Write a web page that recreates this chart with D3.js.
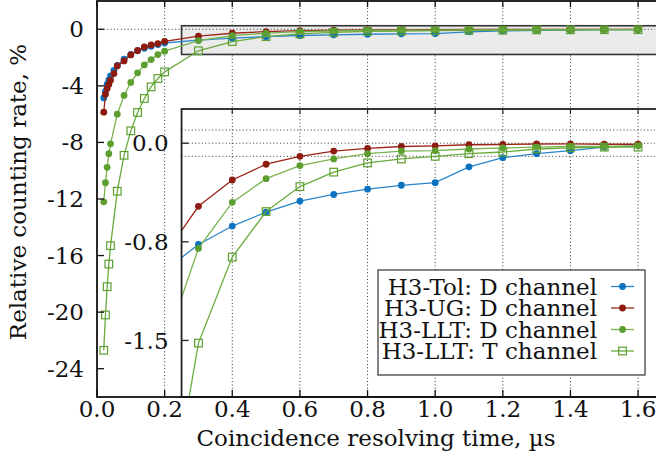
<!DOCTYPE html>
<html>
<head>
<meta charset="utf-8">
<script src="https://cdn.jsdelivr.net/npm/d3@7"></script>
<style>
  body { margin: 0; background: #fff; }
  svg text { font-family: "DejaVu Serif", "Liberation Serif", serif; fill: #111; }
</style>
</head>
<body>
<div id="chart"></div>
<script>
// x values (µs)
var xFineTU = [0.02, 0.025, 0.03, 0.035, 0.04, 0.05, 0.06, 0.08, 0.10, 0.12, 0.14, 0.16, 0.18, 0.20];
var xFineLLT = [0.02, 0.025, 0.03, 0.035, 0.04, 0.06, 0.08, 0.10, 0.12, 0.14, 0.16, 0.18, 0.20];
var xCoarse = [0.3, 0.4, 0.5, 0.6, 0.7, 0.8, 0.9, 1.0, 1.1, 1.2, 1.3, 1.4, 1.5, 1.6];

// relative counting rate, %
var tolFine = [-4.85, -4.4, -3.9, -3.6, -3.3, -2.9, -2.55, -2.12, -1.78, -1.52, -1.34, -1.2, -1.08, -0.97];
var tolCoarse = [-0.77, -0.63, -0.525, -0.44, -0.39, -0.35, -0.32, -0.30, -0.18, -0.11, -0.08, -0.057, -0.03, -0.02];
var ugFine = [-5.86, -4.6, -4.18, -3.9, -3.6, -3.13, -2.59, -2.24, -1.81, -1.5, -1.25, -1.11, -1.01, -0.85];
var ugCoarse = [-0.48, -0.28, -0.16, -0.10, -0.06, -0.04, -0.025, -0.02, -0.012, -0.01, -0.006, -0.005, -0.008, -0.008];
var lltDFine = [-12.2, -10.85, -9.76, -8.8, -8.1, -6.0, -4.68, -3.76, -3.08, -2.52, -2.14, -1.79, -1.55];
var lltDCoarse = [-0.80, -0.45, -0.27, -0.17, -0.12, -0.08, -0.06, -0.057, -0.044, -0.036, -0.03, -0.025, -0.025, -0.02];
var lltTFine = [-22.7, -20.2, -18.2, -16.6, -15.3, -11.45, -8.91, -7.18, -5.88, -4.89, -4.07, -3.48, -3.01];
var lltTCoarse = [-1.52, -0.866, -0.52, -0.33, -0.22, -0.15, -0.12, -0.10, -0.08, -0.067, -0.044, -0.035, -0.03, -0.03];

var seriesNames = ["H3-Tol: D channel", "H3-UG: D channel", "H3-LLT: D channel", "H3-LLT: T channel"];

var xTicks = [0, 0.2, 0.4, 0.6, 0.8, 1.0, 1.2, 1.4, 1.6];
var yTicks = [0, -4, -8, -12, -16, -20, -24];
var insetYTicks = [0, -0.75, -1.5];
var insetYLabels = ["0.0", "-0.8", "-1.5"];
var insetGrid = [0.1, 0, -0.1];

var width = 656, height = 455;
var fontSize = 23;

function zipXY(xs, ys) {
  return ys.map(function (v, i) { return { x: xs[i], y: v }; });
}

var series = [
  { name: seriesNames[0], color: "#0b72bf", line: "#2a86cc", marker: "circle",
    data: zipXY(xFineTU, tolFine).concat(zipXY(xCoarse, tolCoarse)) },
  { name: seriesNames[1], color: "#8e1b10", line: "#9a2418", marker: "circle",
    data: zipXY(xFineTU, ugFine).concat(zipXY(xCoarse, ugCoarse)) },
  { name: seriesNames[2], color: "#5c9f30", line: "#79b24f", marker: "circle",
    data: zipXY(xFineLLT, lltDFine).concat(zipXY(xCoarse, lltDCoarse)) },
  { name: seriesNames[3], color: "#5c9f30", line: "#6aab3d", marker: "square",
    data: zipXY(xFineLLT, lltTFine).concat(zipXY(xCoarse, lltTCoarse)) }
];

var x = d3.scaleLinear().domain([0, 1.65]).range([97, 655]);
var y = d3.scaleLinear().domain([-26, 2]).range([397, 1]);
var yIn = d3.scaleLinear().domain([-1.93, 0.26]).range([397, 109]);
var zoomBox = { x0: 0.25, x1: 1.7, y0: -1.78, y1: 0.25 };

var svg = d3.select("#chart").append("svg").attr("width", width).attr("height", height);
var defs = svg.append("defs");
defs.append("clipPath").attr("id", "clipMain").append("rect")
  .attr("x", x(0)).attr("y", y(2)).attr("width", x(1.65) - x(0)).attr("height", y(-26) - y(2));
defs.append("clipPath").attr("id", "clipInset").append("rect")
  .attr("x", x(0.25)).attr("y", yIn(0.26)).attr("width", x(1.65) - x(0.25)).attr("height", yIn(-1.93) - yIn(0.26));

var dotted = function (sel) {
  return sel.attr("stroke", "#333").attr("stroke-width", 1).attr("stroke-dasharray", "1,2.4");
};

// main grid
var main = svg.append("g");
main.append("rect").attr("x", x(0)).attr("y", y(2)).attr("width", x(1.65) - x(0)).attr("height", y(-26) - y(2)).attr("fill", "#fff");
xTicks.filter(function (d) { return d > 0; }).forEach(function (t) {
  main.append("line").attr("x1", x(t)).attr("x2", x(t)).attr("y1", y(2)).attr("y2", y(-26)).call(dotted);
});
main.append("rect")
  .attr("x", x(zoomBox.x0)).attr("y", y(zoomBox.y1))
  .attr("width", x(zoomBox.x1) - x(zoomBox.x0)).attr("height", y(zoomBox.y0) - y(zoomBox.y1))
  .attr("fill", "#ebebeb").attr("stroke", "#333").attr("stroke-width", 1.6);
main.append("line").attr("x1", x(0)).attr("x2", x(1.65)).attr("y1", y(0)).attr("y2", y(0)).call(dotted);

function drawSeries(g, ys, clipId, s) {
  var line = d3.line().x(function (d) { return x(d.x); }).y(function (d) { return ys(d.y); });
  var sg = g.append("g").attr("clip-path", "url(#" + clipId + ")");
  sg.append("path").datum(s.data).attr("d", line).attr("fill", "none")
    .attr("stroke", s.line).attr("stroke-width", 1.3);
  if (s.marker === "circle") {
    sg.selectAll("circle").data(s.data).enter().append("circle")
      .attr("cx", function (d) { return x(d.x); })
      .attr("cy", function (d) { return ys(d.y); })
      .attr("r", 3.4).attr("fill", s.color);
  } else {
    sg.selectAll("rect").data(s.data).enter().append("rect")
      .attr("x", function (d) { return x(d.x) - 3.8; })
      .attr("y", function (d) { return ys(d.y) - 3.8; })
      .attr("width", 7.6).attr("height", 7.6)
      .attr("fill", "none").attr("stroke", s.color).attr("stroke-width", 1.2);
  }
}

series.forEach(function (s) { drawSeries(main, y, "clipMain", s); });

// inset
var inset = svg.append("g");
inset.append("rect").attr("x", x(0.25)).attr("y", yIn(0.26)).attr("width", x(1.65) - x(0.25)).attr("height", yIn(-1.93) - yIn(0.26)).attr("fill", "#fff");
xTicks.filter(function (d) { return d > 0.25; }).forEach(function (t) {
  inset.append("line").attr("x1", x(t)).attr("x2", x(t)).attr("y1", yIn(0.26)).attr("y2", yIn(-1.93)).call(dotted);
});
insetGrid.forEach(function (t) {
  inset.append("line").attr("x1", x(0.25)).attr("x2", x(1.65)).attr("y1", yIn(t)).attr("y2", yIn(t)).call(dotted);
});
series.forEach(function (s) { drawSeries(inset, yIn, "clipInset", s); });
inset.append("rect").attr("x", x(0.25)).attr("y", yIn(0.26)).attr("width", x(1.7) - x(0.25)).attr("height", yIn(-1.93) - yIn(0.26))
  .attr("fill", "none").attr("stroke", "#222").attr("stroke-width", 1.8);
insetYTicks.forEach(function (t, i) {
  inset.append("line").attr("x1", x(0.25)).attr("x2", x(0.25) + 7).attr("y1", yIn(t)).attr("y2", yIn(t)).attr("stroke", "#222").attr("stroke-width", 1.3);
  inset.append("text").attr("x", x(0.25) - 13).attr("y", yIn(t)).attr("dy", "0.35em")
    .attr("text-anchor", "end").style("font-size", fontSize + "px").text(insetYLabels[i]);
});
xTicks.filter(function (d) { return d > 0.25; }).forEach(function (t) {
  inset.append("line").attr("x1", x(t)).attr("x2", x(t)).attr("y1", yIn(0.26)).attr("y2", yIn(0.26) + 5).attr("stroke", "#222").attr("stroke-width", 1.2);
});

// legend
var legend = svg.append("g").attr("transform", "translate(378,270)");
legend.append("rect").attr("width", 267).attr("height", 105).attr("fill", "#fff").attr("stroke", "#333").attr("stroke-width", 1.2);
series.forEach(function (s, i) {
  var ly = 16.5 + i * 21.5;
  legend.append("text").attr("x", 219).attr("y", ly).attr("dy", "0.35em").attr("text-anchor", "end")
    .style("font-size", fontSize + "px").text(s.name);
  legend.append("line").attr("x1", 233).attr("x2", 256).attr("y1", ly).attr("y2", ly)
    .attr("stroke", s.line).attr("stroke-width", 1.3);
  if (s.marker === "circle") {
    legend.append("circle").attr("cx", 244.5).attr("cy", ly).attr("r", 3.4).attr("fill", s.color);
  } else {
    legend.append("rect").attr("x", 240.7).attr("y", ly - 3.8).attr("width", 7.6).attr("height", 7.6)
      .attr("fill", "none").attr("stroke", s.color).attr("stroke-width", 1.2);
  }
});

// main frame, ticks and labels
var frame = svg.append("g");
frame.append("rect").attr("x", x(0)).attr("y", y(2)).attr("width", x(1.65) + 4 - x(0)).attr("height", y(-26) - y(2))
  .attr("fill", "none").attr("stroke", "#111").attr("stroke-width", 1.8);
xTicks.forEach(function (t) {
  frame.append("line").attr("x1", x(t)).attr("x2", x(t)).attr("y1", y(-26)).attr("y2", y(-26) - 7).attr("stroke", "#111").attr("stroke-width", 1.3);
  frame.append("line").attr("x1", x(t)).attr("x2", x(t)).attr("y1", y(2)).attr("y2", y(2) + 6).attr("stroke", "#111").attr("stroke-width", 1.3);
  frame.append("text").attr("x", x(t)).attr("y", y(-26) + 20).attr("text-anchor", "middle")
    .style("font-size", fontSize + "px").text(d3.format(".1f")(t));
});
yTicks.forEach(function (t) {
  frame.append("line").attr("x1", x(0)).attr("x2", x(0) + 7).attr("y1", y(t)).attr("y2", y(t)).attr("stroke", "#111").attr("stroke-width", 1.3);
  frame.append("text").attr("x", x(0) - 13).attr("y", y(t)).attr("dy", "0.35em").attr("text-anchor", "end")
    .style("font-size", fontSize + "px").text(String(t));
});

svg.append("text").attr("x", (x(0) + x(1.65)) / 2).attr("y", 446).attr("text-anchor", "middle")
  .style("font-size", fontSize + "px").text("Coincidence resolving time, µs");
svg.append("text").attr("transform", "translate(26,192) rotate(-90)").attr("text-anchor", "middle")
  .style("font-size", fontSize + "px").text("Relative counting rate, %");
</script>
</body>
</html>
